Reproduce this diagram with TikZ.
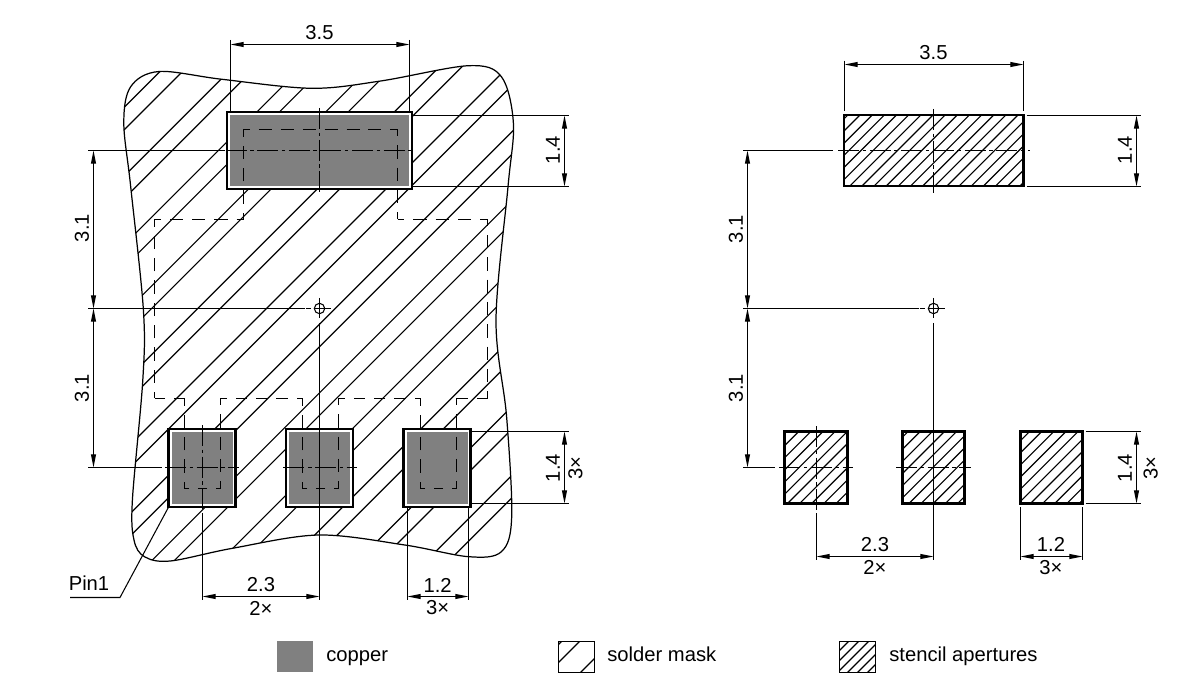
\documentclass[tikz,border=0pt]{standalone}
\usepackage{fontspec}
\setmainfont{Liberation Sans}
\usepackage{tikz}
\usetikzlibrary{arrows.meta}
\tikzstyle{dim}=[line width=0.65pt, {Triangle[length=7.5pt,width=2.8pt]}-{Triangle[length=7.5pt,width=2.8pt]}]
\tikzstyle{ext}=[line width=0.6pt]
\tikzstyle{center line}=[line width=0.6pt, dash pattern=on 12pt off 2pt on 2pt off 2pt]
\tikzstyle{hatch line}=[line width=0.65pt]
\tikzstyle{aperture}=[draw=black, line width=1.4pt]
\tikzstyle{label}=[inner sep=0pt, font=\fontsize{11.5}{13}\selectfont]
\definecolor{copper}{RGB}{128,128,128}
\newcommand{\maskoutline}{plot[smooth cycle, tension=0.55] coordinates {
	(123.8,123) (130.7,86.7) (159,71.5) (222,79.3) (311.7,88.3) (380.7,81) (468.6,65.7)
	(501.4,76.7) (513.4,123.3) (508,186.7) (496,320) (506.6,416.7) (511.7,516.7)
	(501.4,551.7) (468.6,556.7) (404.8,545) (318.6,535) (232.4,548.3) (170.3,561)
	(144.5,556.7) (134,540) (132.4,500) (142.8,380) (143.4,310) (130.7,186.7)}}

\begin{document}
\begin{tikzpicture}[x=0.02cm, y=-0.02cm]
	\useasboundingbox (0,0) rectangle (1200,675);
	% Solder mask with its hatching
	\begin{scope}
		\clip \maskoutline;
		\foreach \k in {0,...,11}{
			\pgfmathsetmacro{\ca}{231.5+68.7*\k}
			\pgfmathsetmacro{\cb}{\ca+22.5}
			\draw[hatch line] ({\ca-40},40) -- ({\ca-600},600);
			\draw[hatch line] ({\cb-40},40) -- ({\cb-600},600);
		}
	\end{scope}
	\draw[line width=0.7pt] \maskoutline;

	% Copper pads
	\foreach \xa/\xb/\ya/\yb in {227/412/112/189, 168.5/235.5/429/507, 286/353/429/507, 403.5/470.5/429/507}{
		\fill[white] (\xa,\ya) rectangle (\xb,\yb);
		\fill[copper] (\xa+3,\ya+3) rectangle (\xb-3,\yb-3);
		\draw[line width=1.4pt] (\xa,\ya) rectangle (\xb,\yb);
	}

	% Paste area seen through the mask, each side on its own so that the corners close
	\foreach \xa/\ya/\xb/\yb in {
		154.5/398.5/154.5/219.5, 154.5/219.5/243.5/219.5, 243.5/219.5/243.5/129.5, 243.5/129.5/397.5/129.5,
		397.5/129.5/397.5/219.5, 397.5/219.5/487.5/219.5, 487.5/219.5/487.5/398.5, 487.5/398.5/456.5/398.5,
		456.5/398.5/456.5/488.5, 456.5/488.5/420.5/488.5, 420.5/488.5/420.5/398.5, 420.5/398.5/338.5/398.5,
		338.5/398.5/338.5/488.5, 338.5/488.5/302.5/488.5, 302.5/488.5/302.5/398.5, 302.5/398.5/220.5/398.5,
		220.5/398.5/220.5/488.5, 220.5/488.5/184.5/488.5, 184.5/488.5/184.5/398.5, 184.5/398.5/154.5/398.5}{
		\pgfmathsetmacro{\seglen}{veclen(\xb-\xa,\yb-\ya)}
		\pgfmathsetmacro{\per}{\seglen/max(1,round(\seglen/23))}
		\pgfmathsetmacro{\onlen}{(\per-9)*0.5669}
		\pgfmathsetmacro{\phase}{\onlen/2}
		\draw[line width=0.65pt, dash pattern=on \onlen pt off 5.1pt, dash phase=\phase pt] (\xa,\ya) -- (\xb,\yb);
	}

	% Stencil apertures
	\foreach \xa/\xb/\ya/\yb/\name in {844/1023.5/115/186/apa, 784.7/847.3/431.7/503.3/apb,
		902.3/964.7/431.7/503.3/apc, 1020.3/1082.3/431.7/503.3/apd}{
		\begin{scope}
			\clip (\xa,\ya) rectangle (\xb,\yb);
			\foreach \k in {0,...,100}{
				\pgfmathsetmacro{\ca}{890+12.15*\k}
				\draw[hatch line] ({\ca-100},100) -- ({\ca-520},520);
			}
		\end{scope}
		\draw[aperture] (\xa,\ya) rectangle (\xb,\yb);
	}

	% Centre marks
	\foreach \cx/\name in {319.5/marka, 933.5/markb}{
		\node[draw, circle, line width=0.6pt, inner sep=0pt, minimum size=10.4*0.02cm] (\name) at (\cx,308.5) {};
		\draw[ext] (\cx-14,308.5) -- (\cx-9,308.5) (\cx-5,308.5) -- (\cx+11,308.5);
		\draw[ext] (\cx,298) -- (\cx,318);
	}

	% Extension and centre lines, left
	\foreach \xa/\ya/\xb/\yb in {
		230.5/40/230.5/111, 409.5/40/409.5/111, 412/115.5/568.5/115.5, 412/186.5/568.5/186.5,
		88/150.5/225/150.5, 88/308.5/305/308.5, 88/467.5/162/467.5, 202.5/513/202.5/600, 319.5/323/319.5/600,
		407.5/507/407.5/600, 468.5/507/468.5/600, 470/431.5/568.5/431.5, 470/503.5/568.5/503.5}
	\draw[ext] (\xa,\ya) -- (\xb,\yb);
	\foreach \xa/\ya/\xb/\yb in {
		225.5/150.5/415/150.5, 319.5/108/319.5/192, 165/467.5/239/467.5, 202.5/425/202.5/513, 283.4/467.5/357/467.5}
	\draw[center line] (\xa,\ya) -- (\xb,\yb);

	% Extension and centre lines, right
	\foreach \xa/\ya/\xb/\yb in {
		844.5/60.7/844.5/110.7, 1023.5/60.7/1023.5/110.7, 1026.7/115.5/1140.5/115.5, 1026.7/186.5/1140.5/186.5,
		743/150.5/833/150.5, 743/308.5/919.3/308.5, 743/467.5/775/467.5, 816.5/513.3/816.5/559.5, 933.5/323/933.5/559.5,
		1020.5/507/1020.5/559.5, 1082.5/507/1082.5/559.5, 1085.7/431.5/1140.5/431.5, 1085.7/503.5/1140.5/503.5}
	\draw[ext] (\xa,\ya) -- (\xb,\yb);
	\foreach \xa/\ya/\xb/\yb in {
		838/150.5/1030/150.5, 933.5/109/933.5/193, 779.3/467.5/853.3/467.5, 816.5/426/816.5/510, 896/467.5/970.7/467.5}
	\draw[center line] (\xa,\ya) -- (\xb,\yb);

	% Dimension lines
	\foreach \xa/\ya/\xb/\yb in {
		230.5/44.5/409.5/44.5, 564.5/115.5/564.5/186.5, 93.5/150.5/93.5/308.5, 93.5/308.5/93.5/467.5, 564.5/431.5/564.5/503.5,
		202.5/596.5/319.5/596.5, 407.5/596.5/468.5/596.5,
		844.5/64.5/1023.5/64.5, 1136.5/115.5/1136.5/186.5, 747.5/150.5/747.5/308.5, 747.5/308.5/747.5/467.5, 1136.5/431.5/1136.5/503.5,
		816.5/556.5/933.5/556.5, 1020.5/556.5/1082.5/556.5}
	\draw[dim] (\xa,\ya) -- (\xb,\yb);

	% Dimension texts
	\foreach \pos/\name/\txt in {
		{(319.5,33)/ta/3.5}, {(261,585)/tb/2.3}, {(261,608)/tc/2×}, {(437.6,585)/td/1.2}, {(437.6,608)/te/3×},
		{(933.5,53)/tf/3.5}, {(875,544.3)/tg/2.3}, {(875,567.7)/th/2×}, {(1051,544.3)/ti/1.2}, {(1051,567.7)/tj/3×}}
	\node[label] (\name) at \pos {\txt};
	\foreach \pos/\name/\txt in {
		{(553,150)/ra/1.4}, {(82,228)/rb/3.1}, {(82,388)/rc/3.1}, {(553,468)/rd/1.4}, {(575.5,468)/re/3×},
		{(1125,150)/rf/1.4}, {(736,229)/rg/3.1}, {(736,388)/rh/3.1}, {(1125,468)/ri/1.4}, {(1150.7,468)/rj/3×}}
	\node[label, rotate=90] (\name) at \pos {\txt};

	% Pin 1 leader
	\node[label] (pin) at (89,583) {Pin1};
	\coordinate (pina) at (70,597.5);
	\coordinate (pinb) at (120,597.5);
	\coordinate (pinc) at (168.6,507);
	\draw[ext] (pina) -- (pinb) -- (pinc);

	% Legend
	\fill[copper] (277,641) rectangle (312.5,672);
	\begin{scope}
		\clip (558,641) rectangle (594,672);
		\foreach \c in {1203,1221,1253}
		\draw[hatch line] ({\c-630},630) -- ({\c-680},680);
	\end{scope}
	\draw[line width=0.5pt] (558.5,641.5) rectangle (594.5,672.5);
	\begin{scope}
		\clip (839.3,641) rectangle (875.7,672);
		\foreach \k in {0,...,12}{
			\pgfmathsetmacro{\ca}{1480+10*\k}
			\draw[hatch line] ({\ca-630},630) -- ({\ca-680},680);
		}
	\end{scope}
	\draw[line width=0.5pt] (839.5,641.5) rectangle (875.5,672.5);
	\node[label, anchor=base west] (copperlabel) at (326,661.5) {copper};
	\node[label, anchor=base west] (masklabel) at (607,661.5) {solder mask};
	\node[label, anchor=base west] (stencillabel) at (889,661.5) {stencil apertures};
\end{tikzpicture}
\end{document}
